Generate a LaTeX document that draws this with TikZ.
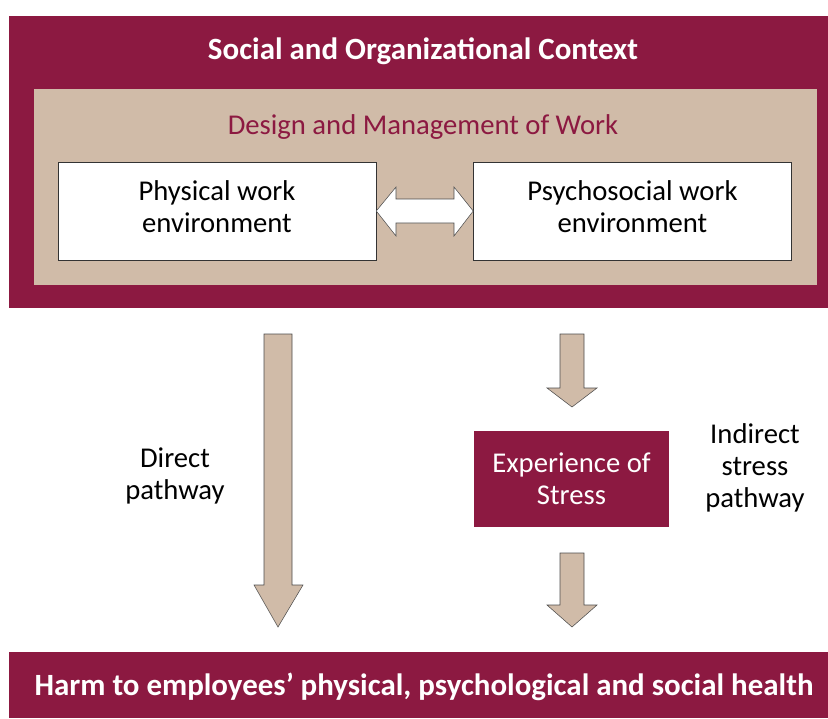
\documentclass[tikz,border=0pt]{standalone}
\usepackage{fontspec}
\setmainfont{Carlito}
\usetikzlibrary{positioning}

\definecolor{maroon}{RGB}{140,25,65}
\definecolor{sand}{RGB}{208,187,168}

\tikzset{
  band/.style={fill=maroon,text=white,inner sep=0pt,font=\fontsize{23.2}{26}\selectfont\bfseries},
  workbox/.style={draw=black!80,fill=white,minimum width=238.5pt,minimum height=73.5pt},
  worktext/.style={align=center,font=\fontsize{21.5}{24}\selectfont},
  blockarrow/.style={draw=black!70,fill=sand,line join=miter},
  sidetext/.style={align=center,font=\fontsize{21.5}{24}\selectfont}
}

\begin{document}
\begin{tikzpicture}[x=0.75pt,y=-0.75pt]
  \useasboundingbox (0,0) rectangle (828,718);
  % frames
  \fill[maroon] (9,16) rectangle (828,308);
  \fill[sand] (34,89) rectangle (817,285);
  \node[band] (context) at (423,51) {Social and Organizational Context};
  \node[text=maroon,font=\fontsize{21.5}{24}\selectfont] (design) at (423,127) {Design and Management of Work};
  \node[workbox] (phys) at (217,211) {};
  \node[worktext] (physlbl) at (217,207) {Physical work\\environment};
  \node[workbox] (psycho) at (632.5,211) {};
  \node[worktext] (psycholbl) at (632.5,207) {Psychosocial work\\environment};
  % double arrow between the boxes
  \draw[blockarrow,fill=white] (phys.east) -- (396,187) -- (396,199) -- (454,199) -- (454,187)
     -- (psycho.west) -- (454,236) -- (454,223) -- (396,223) -- (396,236) -- cycle;
  % direct pathway
  \draw[blockarrow] (264,334) -- (292,334) -- (292,585) -- (303,585) -- (278,627)
     -- (254,585) -- (264,585) -- cycle;
  \node[sidetext] (direct) at (175,476) {Direct\\pathway};
  % indirect pathway
  \node[fill=maroon,text=white,minimum width=146.25pt,minimum height=72pt,align=center,
        font=\fontsize{21.5}{24}\selectfont] (stress) at (571.5,479) {Experience of\\Stress};
  \draw[blockarrow] (560,334) -- (584,334) -- (584,388) -- (597,388) -- (572,407)
     -- (547,388) -- (560,388) -- cycle;
  \draw[blockarrow] (560,553) -- (584,553) -- (584,605) -- (597,605) -- (572,627)
     -- (547,605) -- (560,605) -- cycle;
  \node[sidetext] (indirect) at (755,468) {Indirect\\stress\\pathway};
  % outcome
  \fill[maroon] (9,652) rectangle (828,718);
  \node[band] (harm) at (424,687) {Harm to employees’ physical, psychological and social health};
\end{tikzpicture}
\end{document}
